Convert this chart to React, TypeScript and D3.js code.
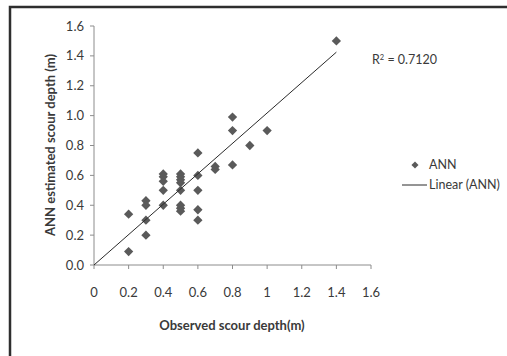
import React from "react";
import * as d3 from "d3";

const obsX: number[] = [
  0.2, 0.2,
  0.3, 0.3, 0.3, 0.3,
  0.4, 0.4, 0.4, 0.4, 0.4,
  0.5, 0.5, 0.5, 0.5, 0.5, 0.5, 0.5, 0.5,
  0.6, 0.6, 0.6, 0.6, 0.6,
  0.7, 0.7,
  0.8, 0.8, 0.8,
  0.9, 1.0, 1.4,
];
const annY: number[] = [
  0.34, 0.09,
  0.43, 0.40, 0.30, 0.20,
  0.61, 0.59, 0.56, 0.50, 0.40,
  0.61, 0.59, 0.57, 0.55, 0.50, 0.40, 0.38, 0.36,
  0.75, 0.60, 0.50, 0.37, 0.30,
  0.66, 0.64,
  0.99, 0.90, 0.67,
  0.80, 0.90, 1.50,
];
const trendX: number[] = [0, 1.4];
const trendY: number[] = [0, 1.425];
const xTicks: number[] = [0, 0.2, 0.4, 0.6, 0.8, 1, 1.2, 1.4, 1.6];
const yTicks: number[] = [0, 0.2, 0.4, 0.6, 0.8, 1.0, 1.2, 1.4, 1.6];
const r2Label = "0.7120";

const FONT = "Lato, 'Open Sans', sans-serif";

export default function App() {
  const x = d3.scaleLinear().domain([0, 1.6]).range([94, 371]);
  const y = d3.scaleLinear().domain([0, 1.6]).range([265, 26]);
  const diamond = d3.symbol().type(d3.symbolDiamond2).size(55)() as string;
  const line = d3
    .line<number>()
    .x((_, i) => x(trendX[i]))
    .y((d) => y(d));
  const axisColor = "#8c8c8c";
  const textColor = "#3a3a3a";
  return (
    <svg
      width={507}
      height={356}
      style={{ position: "absolute", left: 0, top: 0, background: "#fff" }}
      fontFamily={FONT}
    >
      <rect x={0} y={0} width={507} height={356} fill="#fff" />
      <path d="M10,360 L10,7 L510,7" fill="none" stroke="#2e2e2e" strokeWidth={2.5} />
      {/* y axis */}
      <line x1={x(0)} x2={x(0)} y1={y(0)} y2={y(1.6)} stroke={axisColor} />
      {yTicks.map((t) => (
        <g key={"y" + t}>
          <line x1={x(0) - 4} x2={x(0)} y1={y(t)} y2={y(t)} stroke={axisColor} />
          <text
            x={84}
            y={y(t)}
            dy="0.35em"
            textAnchor="end"
            fontSize={13}
            fill={textColor}
          >
            {t.toFixed(1)}
          </text>
        </g>
      ))}
      {/* x axis */}
      <line x1={x(0)} x2={x(1.6)} y1={y(0)} y2={y(0)} stroke={axisColor} />
      {xTicks.map((t) => (
        <g key={"x" + t}>
          <line x1={x(t)} x2={x(t)} y1={y(0)} y2={y(0) + 4} stroke={axisColor} />
          <text
            x={x(t)}
            y={292}
            dy="0.35em"
            textAnchor="middle"
            fontSize={13}
            fill={textColor}
          >
            {String(t)}
          </text>
        </g>
      ))}
      {/* axis titles */}
      <text
        x={232}
        y={325}
        dy="0.35em"
        textAnchor="middle"
        fontSize={13}
        fontWeight="bold"
        fill={textColor}
      >
        Observed scour depth(m)
      </text>
      <text
        transform={`translate(50,145) rotate(-90)`}
        dy="0.35em"
        textAnchor="middle"
        fontSize={13}
        fontWeight="bold"
        fill={textColor}
      >
        ANN estimated scour depth (m)
      </text>
      {/* points */}
      {obsX.map((v, i) => (
        <path
          key={"p" + i}
          d={diamond}
          transform={`translate(${x(v)},${y(annY[i])})`}
          fill="#5a5a5a"
        />
      ))}
      {/* trend line */}
      <path d={line(trendY) || ""} fill="none" stroke="#2a2a2a" strokeWidth={1} />
      {/* R2 */}
      <text x={372} y={60} dy="0.35em" fontSize={12.5} fill={textColor}>
        R<tspan dy="-4" fontSize={7.5}>2</tspan>
        <tspan dy="4"> = {r2Label}</tspan>
      </text>
      {/* legend */}
      <path d={d3.symbol().type(d3.symbolDiamond2).size(32)() as string} transform="translate(415,165)" fill="#5a5a5a" />
      <text x={429} y={165} dy="0.35em" fontSize={12.5} fill={textColor}>
        ANN
      </text>
      <line x1={402} x2={427} y1={185} y2={185} stroke="#2a2a2a" />
      <text x={429} y={185} dy="0.35em" fontSize={12.5} fill={textColor}>
        Linear (ANN)
      </text>
    </svg>
  );
}
